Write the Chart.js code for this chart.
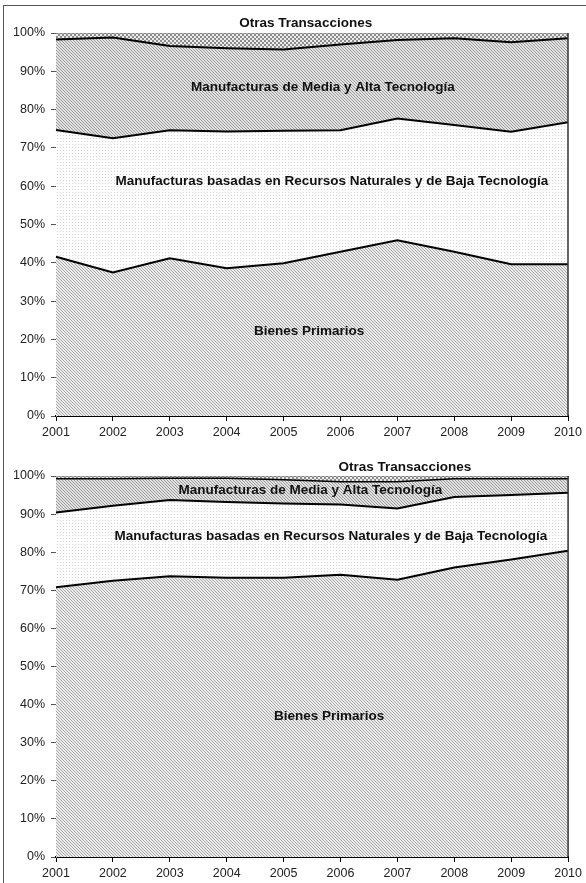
<!DOCTYPE html>
<html>
<head>
<meta charset="utf-8">
<script src="https://cdn.jsdelivr.net/npm/chart.js@4.4.0/dist/chart.umd.min.js"></script>
<style>
  html, body { margin: 0; padding: 0; background: #fff; }
  #marco { position: absolute; left: 3px; top: 5px; width: 583px; height: 878px;
           border-left: 1px solid #555; border-top: 1px solid #555; }
  #grafico1 { position: absolute; left: 0; top: 0; }
  #grafico2 { position: absolute; left: 0; top: 445px; }
</style>
</head>
<body>
<div id="marco"></div>
<canvas id="grafico1" width="586" height="445"></canvas>
<canvas id="grafico2" width="586" height="438"></canvas>
<script>
const anios = ['2001', '2002', '2003', '2004', '2005', '2006', '2007', '2008', '2009', '2010'];
const ticksY = [0, 10, 20, 30, 40, 50, 60, 70, 80, 90, 100];

// grafico superior (participacion %)
const primarios1 = [41.6, 37.5, 41.2, 38.6, 39.9, 42.9, 45.9, 42.9, 39.6, 39.6];
const recursosBaja1 = [33.1, 35.0, 33.4, 35.7, 34.6, 31.7, 31.8, 33.1, 34.6, 37.1];
const mediaAlta1 = [23.6, 26.3, 22.0, 21.7, 21.2, 22.4, 20.5, 22.6, 23.4, 21.9];
const otras1 = [1.7, 1.2, 3.4, 4.0, 4.3, 3.0, 1.8, 1.4, 2.4, 1.4];

// grafico inferior (participacion %)
const primarios2 = [70.8, 72.5, 73.7, 73.3, 73.3, 74.1, 72.8, 76.0, 78.1, 80.4];
const recursosBaja2 = [19.6, 19.7, 20.0, 19.9, 19.5, 18.4, 18.7, 18.5, 16.9, 15.2];
const mediaAlta2 = [8.9, 7.1, 5.7, 6.2, 6.2, 6.0, 7.0, 4.8, 4.3, 3.7];
const otras2 = [0.7, 0.7, 0.6, 0.6, 1.0, 1.5, 1.5, 0.7, 0.7, 0.7];

const nombres = ['Bienes Primarios',
  'Manufacturas basadas en Recursos Naturales y de Baja Tecnología',
  'Manufacturas de Media y Alta Tecnología',
  'Otras Transacciones'];

function tramaDiagonal(frente, fondo) {
  const c = document.createElement('canvas');
  c.width = 3; c.height = 3;
  const ctx = c.getContext('2d');
  ctx.fillStyle = fondo; ctx.fillRect(0, 0, 3, 3);
  ctx.fillStyle = frente;
  for (let i = 0; i < 3; i++) ctx.fillRect(i, i, 1, 1);
  return ctx.createPattern(c, 'repeat');
}

function tramaPuntos() {
  const c = document.createElement('canvas');
  c.width = 3; c.height = 3;
  const ctx = c.getContext('2d');
  ctx.fillStyle = '#fdfdfd'; ctx.fillRect(0, 0, 3, 3);
  ctx.fillStyle = '#d6d6d6'; ctx.fillRect(0, 0, 1, 1);
  return ctx.createPattern(c, 'repeat');
}

function tramaCuadros() {
  const c = document.createElement('canvas');
  c.width = 4; c.height = 4;
  const ctx = c.getContext('2d');
  ctx.fillStyle = '#ececec'; ctx.fillRect(0, 0, 4, 4);
  ctx.fillStyle = '#8c8c8c';
  ctx.fillRect(0, 0, 2, 2); ctx.fillRect(2, 2, 2, 2);
  return ctx.createPattern(c, 'repeat');
}

const textosEnGrafico = {
  id: 'textosEnGrafico',
  afterDatasetsDraw(chart, args, opts) {
    const ctx = chart.ctx;
    const a = chart.chartArea;
    ctx.save();
    // borde derecho del area
    ctx.strokeStyle = '#333';
    ctx.lineWidth = 1.5;
    ctx.beginPath();
    ctx.moveTo(a.right, a.top);
    ctx.lineTo(a.right, a.bottom);
    ctx.stroke();
    ctx.font = 'bold 13.5px "Liberation Sans", Arial, sans-serif';
    ctx.fillStyle = '#111';
    ctx.textAlign = 'center';
    ctx.textBaseline = 'middle';
    opts.items.forEach(it => {
      const x = chart.scales.x.getPixelForValue(it.x);
      const y = chart.scales.y.getPixelForValue(it.y);
      ctx.fillText(it.texto, x, y);
    });
    ctx.restore();
  }
};

function crearGrafico(canvas, series, items, ajuste) {
  const rellenos = [tramaDiagonal('#a8a8a8', '#ececec'), tramaPuntos(),
                    tramaDiagonal('#9c9c9c', '#e2e2e2'), tramaCuadros()];
  const datasets = series.map((valores, i) => ({
    label: nombres[i],
    data: valores,
    fill: i === 0 ? 'origin' : '-1',
    backgroundColor: rellenos[i],
    borderColor: i === 3 ? '#777' : '#000',
    borderWidth: i === 3 ? 1 : (i === 2 ? ajuste.lineaMedia : 2),
    pointRadius: 0,
    tension: 0
  }));

  return new Chart(canvas, {
    type: 'line',
    data: { labels: anios, datasets: datasets },
    plugins: [textosEnGrafico],
    options: {
      responsive: false,
      animation: false,
      devicePixelRatio: 1,
      layout: { padding: { top: ajuste.arriba, right: ajuste.derecha, left: 0, bottom: 0 } },
      plugins: {
        legend: { display: false },
        tooltip: { enabled: false },
        textosEnGrafico: { items: items }
      },
      scales: {
        x: {
          offset: false,
          afterFit: s => { s.height = ajuste.altoX; },
          grid: { drawOnChartArea: false, tickLength: 5, color: '#000' },
          border: { color: '#000', width: 2 },
          ticks: { color: '#222', padding: 4, maxRotation: 0, autoSkip: false,
                   font: { family: '"Liberation Sans", Arial, sans-serif', size: 12.5 } }
        },
        y: {
          stacked: true,
          min: 0,
          max: 100,
          afterFit: s => { s.width = 56; },
          afterBuildTicks: s => { s.ticks = ticksY.map(v => ({ value: v })); },
          grid: { drawOnChartArea: false, tickLength: 5, color: '#555' },
          border: { color: '#888', width: 1 },
          ticks: { color: '#222', padding: 6, callback: v => v + '%',
                   font: { family: '"Liberation Sans", Arial, sans-serif', size: 12.5 } }
        }
      }
    }
  });
}

crearGrafico(document.getElementById('grafico1'),
  [primarios1, recursosBaja1, mediaAlta1, otras1],
  [
    { texto: nombres[3], x: 4.39, y: 102.6 },
    { texto: nombres[2], x: 4.69, y: 85.9 },
    { texto: nombres[1], x: 4.85, y: 61.4 },
    { texto: nombres[0], x: 4.45, y: 22.2 }
  ],
  { arriba: 33, derecha: 18, altoX: 29, lineaMedia: 2 });

crearGrafico(document.getElementById('grafico2'),
  [primarios2, recursosBaja2, mediaAlta2, otras2],
  [
    { texto: nombres[3], x: 6.13, y: 102.4 },
    { texto: nombres[2], x: 4.47, y: 96.3 },
    { texto: nombres[1], x: 4.83, y: 84.3 },
    { texto: nombres[0], x: 4.8, y: 37.0 }
  ],
  { arriba: 31, derecha: 16, altoX: 26, lineaMedia: 1.5 });
</script>
</body>
</html>
